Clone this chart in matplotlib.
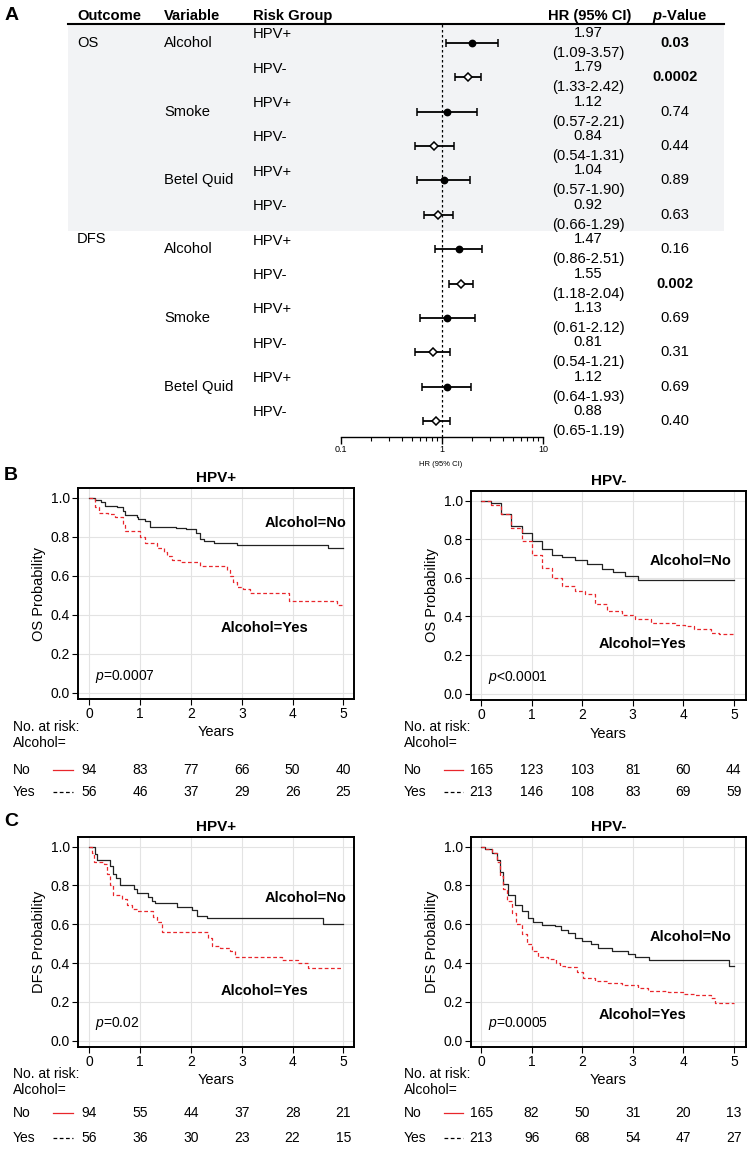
import matplotlib
matplotlib.use('Agg')
import matplotlib.pyplot as plt
import matplotlib.transforms as mtrans
from matplotlib.ticker import FormatStrFormatter, LogLocator, NullFormatter, FixedLocator

plt.rcParams['font.family'] = ['Liberation Sans', 'DejaVu Sans']
plt.rcParams['mathtext.fontset'] = 'custom'
plt.rcParams['mathtext.rm'] = 'Liberation Sans'
plt.rcParams['mathtext.it'] = 'Liberation Sans:italic'
plt.rcParams['mathtext.bf'] = 'Liberation Sans:italic:bold'

# ---- forest plot data (panel A)
outcomes = ['OS', 'DFS']
variables = ['Alcohol', 'Smoke', 'Betel Quid']
groups = ['HPV+', 'HPV-'] * 6
hr = [1.97, 1.79, 1.12, 0.84, 1.04, 0.92, 1.47, 1.55, 1.13, 0.81, 1.12, 0.88]
hr_lo = [1.09, 1.33, 0.57, 0.54, 0.57, 0.66, 0.86, 1.18, 0.61, 0.54, 0.64, 0.65]
hr_hi = [3.57, 2.42, 2.21, 1.31, 1.90, 1.29, 2.51, 2.04, 2.12, 1.21, 1.93, 1.19]
pvals = ['0.03', '0.0002', '0.74', '0.44', '0.89', '0.63',
         '0.16', '0.002', '0.69', '0.31', '0.69', '0.40']

# ---- KM curves, B = OS, C = DFS
years = [0, 1, 2, 3, 4, 5]

os_pos_no_t = [0, 0.1, 0.22, 0.3, 0.55, 0.67, 0.7, 0.93, 0.96, 1.1, 1.2, 1.7, 1.9, 2.1, 2.17, 2.25, 2.45, 2.9, 4.7]
os_pos_no_s = [1.0, 0.99, 0.98, 0.96, 0.95, 0.93, 0.91, 0.90, 0.89, 0.88, 0.85, 0.845, 0.84, 0.82, 0.79, 0.78, 0.77, 0.755, 0.74]
os_pos_yes_t = [0, 0.11, 0.18, 0.37, 0.5, 0.67, 0.7, 1.0, 1.1, 1.33, 1.46, 1.52, 1.62, 1.78, 2.18, 2.7, 2.77, 2.83, 2.9, 3.03, 3.16, 3.92, 4.87]
os_pos_yes_s = [1.0, 0.95, 0.92, 0.915, 0.90, 0.86, 0.83, 0.80, 0.77, 0.74, 0.72, 0.70, 0.68, 0.67, 0.65, 0.63, 0.60, 0.57, 0.54, 0.53, 0.51, 0.47, 0.45]

os_neg_no_t = [0, 0.2, 0.4, 0.6, 0.8, 1.0, 1.2, 1.4, 1.6, 1.85, 2.1, 2.4, 2.6, 2.85, 3.1]
os_neg_no_s = [1.0, 0.99, 0.93, 0.87, 0.83, 0.79, 0.75, 0.72, 0.71, 0.69, 0.67, 0.645, 0.63, 0.61, 0.59]
os_neg_yes_t = [0, 0.2, 0.4, 0.6, 0.8, 1.0, 1.2, 1.4, 1.6, 1.85, 2.05, 2.25, 2.5, 2.78, 3.04, 3.37, 3.83, 4.03, 4.22, 4.55, 4.7]
os_neg_yes_s = [1.0, 0.98, 0.93, 0.86, 0.79, 0.72, 0.65, 0.60, 0.56, 0.53, 0.515, 0.465, 0.43, 0.41, 0.385, 0.365, 0.355, 0.35, 0.335, 0.315, 0.31]

dfs_pos_no_t = [0, 0.11, 0.14, 0.41, 0.47, 0.53, 0.6, 0.87, 0.93, 1.16, 1.23, 1.29, 1.72, 2.01, 2.11, 2.31, 4.6]
dfs_pos_no_s = [1.0, 0.96, 0.93, 0.90, 0.86, 0.84, 0.80, 0.78, 0.76, 0.74, 0.72, 0.71, 0.69, 0.675, 0.645, 0.63, 0.60]
dfs_pos_yes_t = [0, 0.05, 0.09, 0.28, 0.34, 0.41, 0.47, 0.64, 0.73, 0.83, 0.93, 1.26, 1.33, 1.42, 2.34, 2.41, 2.57, 2.77, 2.87, 3.79, 4.11, 4.31]
dfs_pos_yes_s = [1.0, 0.97, 0.92, 0.91, 0.86, 0.80, 0.75, 0.73, 0.70, 0.68, 0.67, 0.64, 0.61, 0.56, 0.53, 0.49, 0.48, 0.46, 0.43, 0.415, 0.40, 0.375]

dfs_neg_no_t = [0, 0.08, 0.21, 0.31, 0.38, 0.44, 0.54, 0.67, 0.8, 0.93, 1.03, 1.2, 1.46, 1.59, 1.72, 1.86, 1.99, 2.18, 2.32, 2.58, 2.91, 3.04, 3.33, 4.91]
dfs_neg_no_s = [1.0, 0.99, 0.97, 0.93, 0.87, 0.81, 0.75, 0.70, 0.67, 0.63, 0.61, 0.595, 0.59, 0.57, 0.555, 0.53, 0.515, 0.50, 0.48, 0.46, 0.445, 0.43, 0.415, 0.385]
dfs_neg_yes_t = [0, 0.08, 0.21, 0.31, 0.38, 0.44, 0.51, 0.61, 0.7, 0.8, 0.9, 1.0, 1.13, 1.32, 1.49, 1.56, 1.66, 1.89, 2.02, 2.25, 2.51, 2.78, 3.11, 3.3, 3.7, 4.0, 4.22, 4.55, 4.62]
dfs_neg_yes_s = [1.0, 0.99, 0.97, 0.92, 0.85, 0.78, 0.72, 0.66, 0.60, 0.55, 0.50, 0.46, 0.43, 0.42, 0.40, 0.385, 0.38, 0.355, 0.325, 0.305, 0.295, 0.285, 0.27, 0.255, 0.25, 0.24, 0.235, 0.22, 0.195]

# numbers at risk
risk_os_pos_no = [94, 83, 77, 66, 50, 40]
risk_os_pos_yes = [56, 46, 37, 29, 26, 25]
risk_os_neg_no = [165, 123, 103, 81, 60, 44]
risk_os_neg_yes = [213, 146, 108, 83, 69, 59]
risk_dfs_pos_no = [94, 55, 44, 37, 28, 21]
risk_dfs_pos_yes = [56, 36, 30, 23, 22, 15]
risk_dfs_neg_no = [165, 82, 50, 31, 20, 13]
risk_dfs_neg_yes = [213, 96, 68, 54, 47, 27]

W, H = 751, 1151
fig = plt.figure(figsize=(W / 100, H / 100), dpi=100)
RED = '#e8262b'
FS = 10.6


def px_axes(x0, y0, x1, y1):
    return fig.add_axes([x0 / W, 1 - y1 / H, (x1 - x0) / W, (y1 - y0) / H])


def ftext(x, y, s, **kw):
    fig.text(x / W, 1 - y / H, s, **kw)


# ---------------- Panel A ----------------
ylim_rows = (11.466, -0.553)
tab = px_axes(0, 24, W, 437)
tab.set_xlim(0, W)
tab.set_ylim(*ylim_rows)
tab.axis('off')
tab.axhspan(-0.553, 5.47, xmin=68 / W, xmax=724 / W, color='#f2f3f5', lw=0, zorder=0)
tab.axhline(-0.553, xmin=68 / W, xmax=724 / W, color='black', lw=1.5, clip_on=False)

hdr_y = -0.80
tab.text(77, hdr_y, 'Outcome', fontsize=FS, fontweight='bold', va='center', clip_on=False)
tab.text(164, hdr_y, 'Variable', fontsize=FS, fontweight='bold', va='center', clip_on=False)
tab.text(253, hdr_y, 'Risk Group', fontsize=FS, fontweight='bold', va='center', clip_on=False)
tab.text(590, hdr_y, 'HR (95% CI)', fontsize=FS, fontweight='bold', va='center', ha='center', clip_on=False)
tab.text(680, hdr_y, r'$\mathbf{p}$-Value', fontsize=FS, fontweight='bold', va='center', ha='center', clip_on=False)

for k, oc in enumerate(outcomes):
    base = k * 6
    tab.text(77, base - (0.29 if k else 0), oc, fontsize=FS, va='center')
    for j, var in enumerate(variables):
        tab.text(164, base + 2 * j, var, fontsize=FS, va='center')

for i in range(len(hr)):
    tab.text(253, i - 0.25, groups[i], fontsize=FS, va='center')
    tab.text(588, i - 0.29, f'{hr[i]:.2f}', fontsize=FS, va='center', ha='center')
    tab.text(588, i + 0.29, f'({hr_lo[i]:.2f}-{hr_hi[i]:.2f})', fontsize=FS, va='center', ha='center')
    bold = float(pvals[i]) < 0.05
    tab.text(675, i, pvals[i], fontsize=FS, va='center', ha='center',
             fontweight='bold' if bold else 'normal')

fa = px_axes(341, 24, 543, 437)
fa.patch.set_alpha(0)
fa.set_xscale('log')
fa.set_xlim(0.1, 10)
fa.set_ylim(*ylim_rows)
for sp in ['top', 'right', 'left']:
    fa.spines[sp].set_visible(False)
fa.spines['bottom'].set_linewidth(1.0)
fa.set_yticks([])
fa.xaxis.set_major_locator(FixedLocator([0.1, 1, 10]))
fa.set_xticklabels(['0.1', '1', '10'], fontsize=6.5)
fa.xaxis.set_minor_locator(LogLocator(base=10, subs=range(2, 10)))
fa.xaxis.set_minor_formatter(NullFormatter())
fa.tick_params(axis='x', which='major', length=5, width=1, pad=1)
fa.tick_params(axis='x', which='minor', length=3, width=0.8)
fa.axvline(1, color='black', lw=0.9, ls=(0, (2, 2)))
for i in range(len(hr)):
    pos = groups[i] == 'HPV+'
    fa.errorbar(hr[i], i, xerr=[[hr[i] - hr_lo[i]], [hr_hi[i] - hr[i]]],
                fmt='o' if pos else 'D', color='black', ecolor='black',
                mfc='black' if pos else 'white', mec='black',
                ms=4.5 if pos else 3.6, mew=1.1, elinewidth=1.3, capsize=3, capthick=1.2)
ftext(441, 464, 'HR (95% CI)', fontsize=5.5, ha='center', va='center')

ftext(5, 15, 'A', fontsize=14, fontweight='bold', va='center')
ftext(4, 475, 'B', fontsize=14, fontweight='bold', va='center')
ftext(4, 822, 'C', fontsize=14, fontweight='bold', va='center')


# ---------------- KM panels ----------------
def km_panel(box, xlim, title, ylabel, no_t, no_s, yes_t, yes_s, pstr, no_xy, yes_xy,
             risk_no, risk_yes, tbl_x, tbl_y, line_x):
    ax = px_axes(*box)
    ax.step(no_t + [5.0], no_s + [no_s[-1]], where='post', color='#222222', lw=0.9)
    ax.step(yes_t + [5.0], yes_s + [yes_s[-1]], where='post', color=RED, lw=0.9, ls=(0, (3, 2)))
    ax.set_xlim(*xlim)
    ax.set_ylim(-0.033, 1.05)
    ax.set_xticks(years)
    ax.set_yticks([0, 0.2, 0.4, 0.6, 0.8, 1.0])
    ax.yaxis.set_major_formatter(FormatStrFormatter('%.1f'))
    ax.grid(True, color='#e3e3e3', lw=0.8)
    ax.set_axisbelow(True)
    for sp in ax.spines.values():
        sp.set_linewidth(1.4)
    ax.tick_params(labelsize=10, length=4, width=0.8, pad=2)
    ax.set_title(title, fontsize=11, fontweight='bold', pad=4)
    ax.set_ylabel(ylabel, fontsize=10.5, labelpad=3)
    ax.set_xlabel('Years', fontsize=10.5, labelpad=3)
    ax.text(no_xy[0], no_xy[1], 'Alcohol=No', fontsize=10.5, fontweight='bold', ha='center', va='center')
    ax.text(yes_xy[0], yes_xy[1], 'Alcohol=Yes', fontsize=10.5, fontweight='bold', ha='center', va='center')
    ax.text(pstr[0], pstr[1], pstr[2], fontsize=10, va='center')

    ftext(tbl_x, tbl_y[0], 'No. at risk:', fontsize=10, va='center')
    ftext(tbl_x, tbl_y[1], 'Alcohol=', fontsize=10, va='center')
    ftext(tbl_x, tbl_y[2], 'No', fontsize=10, va='center')
    ftext(tbl_x, tbl_y[3], 'Yes', fontsize=10, va='center')
    trans = mtrans.blended_transform_factory(ax.transData, fig.transFigure)
    for yr, n1, n2 in zip(years, risk_no, risk_yes):
        ax.text(yr, 1 - tbl_y[2] / H, str(n1), transform=trans, fontsize=10, ha='center', va='center')
        ax.text(yr, 1 - tbl_y[3] / H, str(n2), transform=trans, fontsize=10, ha='center', va='center')
    fig.add_artist(plt.Line2D([line_x[0] / W, line_x[1] / W], [1 - tbl_y[2] / H] * 2,
                              color=RED, lw=0.9))
    fig.add_artist(plt.Line2D([line_x[0] / W, line_x[1] / W], [1 - tbl_y[3] / H] * 2,
                              color='black', lw=0.9, ls=(0, (3, 2))))
    return ax


km_panel((78, 488, 354, 699), (-0.226, 5.21), 'HPV+', 'OS Probability',
         os_pos_no_t, os_pos_no_s, os_pos_yes_t, os_pos_yes_s,
         (0.11, 0.085, '$p$=0.0007'), (4.26, 0.87), (3.45, 0.33),
         risk_os_pos_no, risk_os_pos_yes, 13, (727, 743, 770, 792), (53, 73))
km_panel((471, 491, 746, 700), (-0.2, 5.24), 'HPV-', 'OS Probability',
         os_neg_no_t, os_neg_no_s, os_neg_yes_t, os_neg_yes_s,
         (0.14, 0.085, '$p$<0.0001'), (4.15, 0.686), (3.19, 0.258),
         risk_os_neg_no, risk_os_neg_yes, 404, (727, 743, 770, 792), (444, 463))
km_panel((78, 837, 354, 1047), (-0.226, 5.21), 'HPV+', 'DFS Probability',
         dfs_pos_no_t, dfs_pos_no_s, dfs_pos_yes_t, dfs_pos_yes_s,
         (0.11, 0.09, '$p$=0.02'), (4.26, 0.737), (3.45, 0.258),
         risk_dfs_pos_no, risk_dfs_pos_yes, 13, (1074, 1090, 1113, 1138), (53, 73))
km_panel((471, 837, 746, 1047), (-0.2, 5.24), 'HPV-', 'DFS Probability',
         dfs_neg_no_t, dfs_neg_no_s, dfs_neg_yes_t, dfs_neg_yes_s,
         (0.14, 0.09, '$p$=0.0005'), (4.15, 0.536), (3.19, 0.134),
         risk_dfs_neg_no, risk_dfs_neg_yes, 404, (1074, 1090, 1113, 1138), (444, 463))

fig.savefig('out.png', dpi=100)
